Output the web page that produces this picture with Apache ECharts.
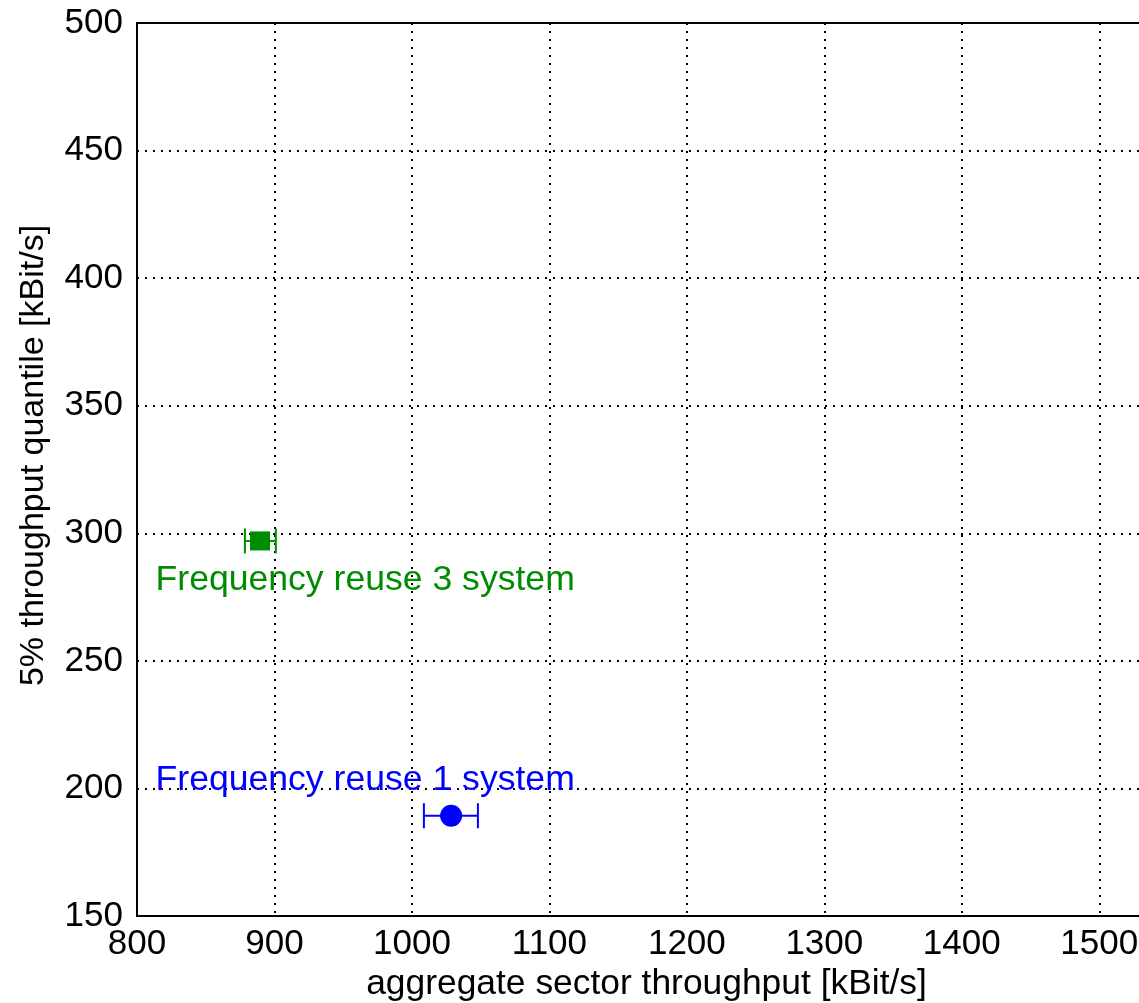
<!DOCTYPE html>
<html>
<head>
<meta charset="utf-8">
<script src="https://cdn.jsdelivr.net/npm/echarts@6/dist/echarts.min.js"></script>
<style>
html,body{margin:0;padding:0;background:#fff;}
#chart{width:1139px;height:1003px;}
</style>
</head>
<body>
<div id="chart"></div>
<script>
// ---- data ----
var seriesNames = ['Frequency reuse 1 system', 'Frequency reuse 3 system'];
var xValues = [1028.5, 889.5];      // aggregate sector throughput
var yValues = [189.3, 297];         // 5% throughput quantile
var xErrLow = [1008.7, 878.5];
var xErrHigh = [1048, 901];
var labelX = [813.5, 813.5];
var labelY = [203.2, 281.5];
var xTicks = [800, 900, 1000, 1100, 1200, 1300, 1400, 1500];
var yTicks = [150, 200, 250, 300, 350, 400, 450, 500];

var colors = ['#0000ff', '#008c00'];
var symbols = ['circle', 'rect'];
var symbolSizes = [22, [20, 19]];
var FONT = 'Liberation Sans, Arial, sans-serif';
var FS = 35;

var chart = echarts.init(document.getElementById('chart'), null, {renderer: 'canvas'});

var series = [];
for (var i = 0; i < seriesNames.length; i++) {
  (function (i) {
    series.push({
      name: seriesNames[i] + ' err',
      type: 'custom',
      z: 3,
      data: [[xValues[i], yValues[i], xErrLow[i], xErrHigh[i]]],
      renderItem: function (params, api) {
        var y = api.value(1);
        var lo = api.coord([api.value(2), y]);
        var hi = api.coord([api.value(3), y]);
        var h = 12.5;
        var st = {stroke: colors[i], lineWidth: 2};
        return {
          type: 'group',
          children: [
            {type: 'line', shape: {x1: lo[0], y1: lo[1], x2: hi[0], y2: hi[1]}, style: st},
            {type: 'line', shape: {x1: lo[0], y1: lo[1] - h, x2: lo[0], y2: lo[1] + h}, style: st},
            {type: 'line', shape: {x1: hi[0], y1: hi[1] - h, x2: hi[0], y2: hi[1] + h}, style: st}
          ]
        };
      }
    });
    series.push({
      name: seriesNames[i],
      type: 'scatter',
      z: 4,
      symbol: symbols[i],
      symbolSize: symbolSizes[i],
      itemStyle: {color: colors[i], opacity: 1},
      data: [[xValues[i], yValues[i]]]
    });
    series.push({
      name: seriesNames[i] + ' label',
      type: 'custom',
      z: 5,
      data: [[labelX[i], labelY[i]]],
      renderItem: function (params, api) {
        var p = api.coord([api.value(0), api.value(1)]);
        return {
          type: 'text',
          x: p[0], y: p[1],
          style: {
            text: seriesNames[i],
            fill: colors[i],
            font: '35.6px ' + FONT,
            align: 'left',
            verticalAlign: 'middle'
          }
        };
      }
    });
  })(i);
}

var gridLine = {show: true, lineStyle: {color: '#000', width: 2, type: [2, 6]}};

var option = {
  animation: false,
  backgroundColor: '#fff',
  grid: {
    left: 137, top: 23, width: 1031, height: 893,
    outerBoundsMode: 'none',
    show: true, borderColor: '#000', borderWidth: 2, containLabel: false
  },
  xAxis: {
    type: 'value',
    min: xTicks[0], max: 1550, interval: 100,
    name: 'aggregate sector throughput [kBit/s]',
    nameLocation: 'middle',
    nameGap: 47,
    nameTextStyle: {fontSize: 35.4, color: '#000', fontFamily: FONT, padding: [0, 12, 0, 0]},
    axisLine: {show: true, lineStyle: {color: '#000', width: 2}},
    axisTick: {show: false},
    axisLabel: {fontSize: FS, color: '#000', fontFamily: FONT, margin: 11, showMaxLabel: false,
      formatter: function (v) { return String(v); }},
    splitLine: gridLine
  },
  yAxis: {
    type: 'value',
    min: yTicks[0], max: yTicks[yTicks.length - 1], interval: 50,
    name: '5% throughput quantile [kBit/s]',
    nameLocation: 'middle',
    nameGap: 86,
    nameRotate: 90,
    nameTextStyle: {fontSize: 34, color: '#000', fontFamily: FONT, padding: [0, 0, 0, 28]},
    axisLine: {show: true, lineStyle: {color: '#000', width: 2}},
    axisTick: {show: false},
    axisLabel: {fontSize: FS, color: '#000', fontFamily: FONT, margin: 14,
      formatter: function (v) { return String(v); }},
    splitLine: gridLine
  },
  series: series
};
chart.setOption(option);
</script>
</body>
</html>
